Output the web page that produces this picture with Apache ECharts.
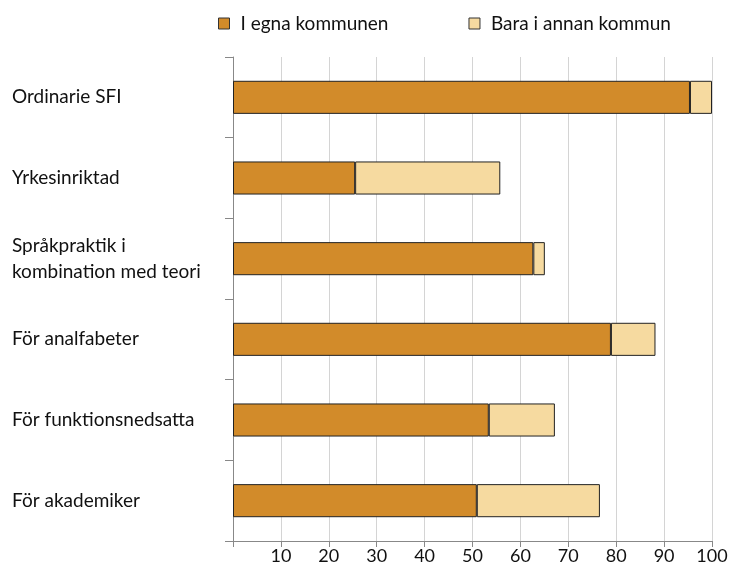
<!DOCTYPE html>
<html>
<head>
<meta charset="utf-8">
<script src="https://cdn.jsdelivr.net/npm/echarts@6/dist/echarts.min.js"></script>
<style>
  html, body { margin: 0; padding: 0; background: #fff; }
  #chart { width: 747px; height: 574px; }
</style>
</head>
<body>
<div id="chart"></div>
<script>
// values (percent)
const categories = [
    'Ordinarie SFI',
    'Yrkesinriktad',
    'Språkpraktik i\nkombination med teori',
    'För analfabeter',
    'För funktionsnedsatta',
    'För akademiker'
];
const egnaKommunen = [95.4, 25.5, 62.7, 78.9, 53.4, 50.9];
const annanKommun = [4.6, 30.3, 2.4, 9.3, 13.8, 25.7];
const seriesNames = ['I egna kommunen', 'Bara i annan kommun'];

const font = 'Lato, "Open Sans", sans-serif';

const chart = echarts.init(document.getElementById('chart'));
chart.setOption({
    animation: false,
    textStyle: { fontFamily: font },
    legend: {
        top: 9,
        left: 213,
        icon: 'rect',
        itemWidth: 11,
        itemHeight: 11,
        itemGap: 80,
        itemStyle: { borderColor: '#333', borderWidth: 1 },
        textStyle: { fontSize: 19, color: '#111', fontFamily: font, padding: [0, 0, 0, 6] },
        data: seriesNames
    },
    grid: { left: 233, right: 35, top: 57, bottom: 33, containLabel: false },
    xAxis: {
        type: 'value',
        min: 0,
        max: 100,
        interval: 10,
        axisLine: { show: true, lineStyle: { color: '#888' } },
        axisTick: { show: true, length: 6, lineStyle: { color: '#888' } },
        splitLine: { show: true, lineStyle: { color: '#d4d4d4', width: 1 } },
        axisLabel: {
            fontSize: 18,
            color: '#111',
            margin: 6,
            formatter: v => (v === 0 ? '' : String(v))
        }
    },
    yAxis: {
        type: 'category',
        inverse: true,
        data: categories,
        axisLine: { show: true, lineStyle: { color: '#888' } },
        axisTick: { show: true, length: 8, lineStyle: { color: '#888' } },
        axisLabel: {
            align: 'left',
            margin: 221,
            fontSize: 19,
            lineHeight: 26,
            color: '#111'
        }
    },
    series: [
        {
            name: seriesNames[0],
            type: 'bar',
            stack: 'total',
            barWidth: '41%',
            data: egnaKommunen,
            itemStyle: { color: '#d28b2a', borderColor: '#222', borderWidth: 1 }
        },
        {
            name: seriesNames[1],
            type: 'bar',
            stack: 'total',
            barWidth: '41%',
            data: annanKommun,
            itemStyle: { color: '#f6daa0', borderColor: '#222', borderWidth: 1 }
        }
    ]
});
</script>
</body>
</html>
